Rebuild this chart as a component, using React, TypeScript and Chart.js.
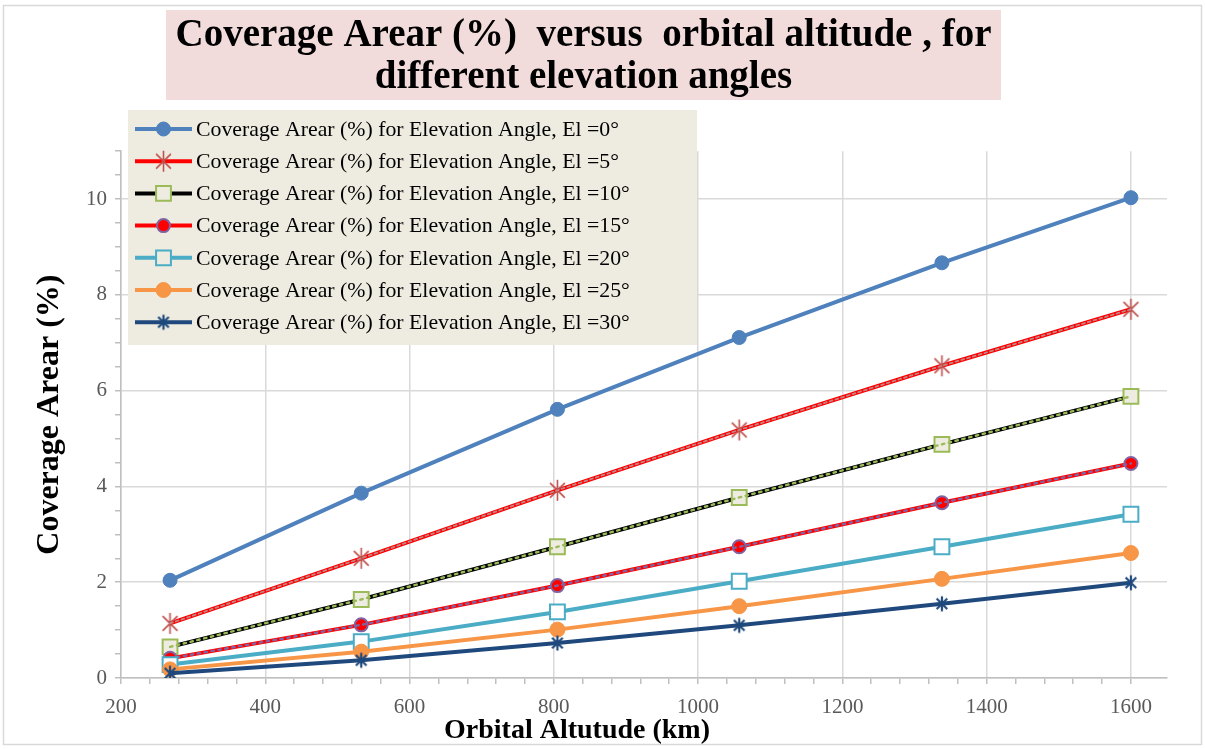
import React, { useEffect, useRef } from 'react';
import { Chart, registerables } from 'chart.js';
import { drawPoint } from 'chart.js/helpers';

Chart.register(...registerables);

// ---------------- data ----------------
const altitudes = [268, 533, 805, 1057, 1338, 1600];
const el0 = [2.04, 3.86, 5.61, 7.11, 8.67, 10.03];
const el5 = [1.14, 2.5, 3.92, 5.18, 6.52, 7.7];
const el10 = [0.65, 1.64, 2.74, 3.77, 4.88, 5.88];
const el15 = [0.41, 1.11, 1.93, 2.74, 3.66, 4.48];
const el20 = [0.28, 0.76, 1.38, 2.02, 2.74, 3.42];
const el25 = [0.18, 0.55, 1.01, 1.5, 2.07, 2.61];
const el30 = [0.1, 0.37, 0.73, 1.1, 1.55, 1.99];

const seriesLabels = [
  'Coverage Arear (%) for Elevation Angle, El =0°',
  'Coverage Arear (%) for Elevation Angle, El =5°',
  'Coverage Arear (%) for Elevation Angle, El =10°',
  'Coverage Arear (%) for Elevation Angle, El =15°',
  'Coverage Arear (%) for Elevation Angle, El =20°',
  'Coverage Arear (%) for Elevation Angle, El =25°',
  'Coverage Arear (%) for Elevation Angle, El =30°',
];
const seriesValues = [el0, el5, el10, el15, el20, el25, el30];

const titleLines = ['Coverage Arear (%)  versus  orbital altitude , for', 'different elevation angles'];
const xTitle = 'Orbital Altutude (km)';
const yTitle = 'Coverage Arear (%)';

// ---------------- styles ----------------
const FONT = "'Liberation Serif', 'Times New Roman', serif";

function asterisk(r: number, color: string, lw: number): HTMLCanvasElement {
  const size = Math.ceil(2 * r + lw + 2);
  const c = document.createElement('canvas');
  c.width = size;
  c.height = size;
  const g = c.getContext('2d')!;
  const m = size / 2;
  g.strokeStyle = color;
  g.lineWidth = lw;
  g.lineCap = 'butt';
  const d = r * Math.SQRT1_2;
  g.beginPath();
  g.moveTo(m, m - r);
  g.lineTo(m, m + r);
  g.moveTo(m - d, m - d);
  g.lineTo(m + d, m + d);
  g.moveTo(m - d, m + d);
  g.lineTo(m + d, m - d);
  g.stroke();
  return c;
}

type Style = {
  color: string;
  pointStyle: any;
  radius: number;
  fill: string;
  border: string;
  pbw: number;
  overlay?: { color: string; dash: number[]; width: number };
};

function makeStyles(): Style[] {
  return [
    { color: '#4f81bd', pointStyle: 'circle', radius: 7, fill: '#4f81bd', border: '#4f81bd', pbw: 1 },
    { color: '#ff0000', pointStyle: asterisk(10.5, '#c0504d', 1.6), radius: 10.5, fill: '#c0504d', border: '#c0504d', pbw: 1.5,
      overlay: { color: '#c08585', dash: [3, 3], width: 1.8 } },
    { color: '#000000', pointStyle: 'rect', radius: 10.5, fill: '#eeece1', border: '#9bbb59', pbw: 2,
      overlay: { color: '#9bbb59', dash: [2.5, 4.5], width: 2.4 } },
    { color: '#ff0000', pointStyle: 'circle', radius: 6.5, fill: '#ff0000', border: '#8064a2', pbw: 2,
      overlay: { color: '#8064a2', dash: [2.5, 4.5], width: 2.4 } },
    { color: '#4bacc6', pointStyle: 'rect', radius: 10.5, fill: '#ffffff', border: '#4bacc6', pbw: 2 },
    { color: '#f79646', pointStyle: 'circle', radius: 7.5, fill: '#f79646', border: '#f79646', pbw: 1 },
    { color: '#1f497d', pointStyle: asterisk(7.5, '#1f497d', 2.2), radius: 7.5, fill: '#1f497d', border: '#1f497d', pbw: 2 },
  ];
}

export default function App() {
  const ref = useRef<HTMLCanvasElement | null>(null);
  useEffect(() => {
    if (!ref.current) return;
    const styles = makeStyles();

    const framePlugin = {
      id: 'frame',
      beforeDraw(chart: any) {
        const ctx = chart.ctx;
        ctx.save();
        ctx.fillStyle = '#ffffff';
        ctx.fillRect(0, 0, chart.width, chart.height);
        ctx.strokeStyle = '#d9d9d9';
        ctx.lineWidth = 1.5;
        ctx.strokeRect(3.5, 5.5, 1198, 739);
        const tb = chart.titleBlock;
        const cx = (tb.left + tb.right) / 2;
        ctx.fillStyle = '#f2dcdb';
        ctx.fillRect(cx - 417.5, 10, 835, 90);
        ctx.restore();
      },
    };

    const overlayPlugin = {
      id: 'overlay',
      afterDatasetDraw(chart: any, args: any) {
        const st = styles[args.index];
        if (!st || !st.overlay) return;
        const pts = args.meta.data;
        const ctx = chart.ctx;
        ctx.save();
        ctx.strokeStyle = st.overlay.color;
        ctx.lineWidth = st.overlay.width;
        ctx.setLineDash(st.overlay.dash);
        ctx.lineCap = 'round';
        ctx.beginPath();
        pts.forEach((p: any, i: number) => (i ? ctx.lineTo(p.x, p.y) : ctx.moveTo(p.x, p.y)));
        ctx.stroke();
        ctx.restore();
      },
    };

    const boxLegendPlugin = {
      id: 'boxLegend',
      afterDraw(chart: any) {
        const ctx = chart.ctx;
        ctx.save();
        ctx.fillStyle = '#eeece1';
        ctx.fillRect(128, 110, 569, 235);
        chart.data.datasets.forEach((ds: any, i: number) => {
          const st = styles[i];
          const y = 129 + i * 32.2;
          ctx.setLineDash([]);
          ctx.lineCap = 'butt';
          ctx.strokeStyle = st.color;
          ctx.lineWidth = 4;
          ctx.beginPath();
          ctx.moveTo(135, y);
          ctx.lineTo(192, y);
          ctx.stroke();
          ctx.fillStyle = st.fill === '#ffffff' ? '#eeece1' : st.fill;
          ctx.strokeStyle = st.border;
          ctx.lineWidth = st.pbw;
          drawPoint(ctx, { pointStyle: st.pointStyle, radius: st.radius, rotation: 0, borderWidth: st.pbw } as any, 163.5, y);
          ctx.fillStyle = '#000000';
          ctx.font = `21.8px ${FONT}`;
          ctx.textBaseline = 'middle';
          ctx.textAlign = 'left';
          ctx.fillText(ds.label, 196, y + 1);
        });
        // x-axis title
        ctx.fillStyle = '#000000';
        ctx.font = `bold 28px ${FONT}`;
        ctx.textAlign = 'center';
        ctx.textBaseline = 'middle';
        ctx.fillText(xTitle, 577, 731);
        ctx.restore();
      },
    };

    const datasets = seriesValues.map((vals, i) => {
      const st = styles[i];
      return {
        label: seriesLabels[i],
        data: vals.map((v, j) => ({ x: altitudes[j], y: v })),
        borderColor: st.color,
        backgroundColor: st.color,
        borderWidth: 4,
        pointStyle: st.pointStyle,
        pointRadius: st.radius,
        pointBackgroundColor: st.fill,
        pointBorderColor: st.border,
        pointBorderWidth: st.pbw,
        tension: 0,
        order: seriesValues.length - i,
      };
    });
    const chart = new Chart(ref.current, {
      type: 'line',
      data: { datasets } as any,
      options: {
        responsive: false,
        animation: false,
        events: [],
        layout: { padding: { left: 0, right: 38, top: 0, bottom: 0 } },
        plugins: {
          legend: { display: false },
          tooltip: { enabled: false },
          title: {
            display: true,
            text: titleLines,
            color: '#000000',
            font: { family: FONT, size: 39, weight: 'bold', lineHeight: 1.08 },
            padding: { top: 15, bottom: 52 },
          },
        },
        scales: {
          x: {
            type: 'linear',
            min: 200,
            max: 1650,
            afterBuildTicks: (axis: any) => {
              axis.ticks = axis.ticks.filter((t: any) => t.value % 40 === 0 && t.value <= 1640);
            },
            afterFit: (s: any) => {
              s.height = 71;
            },
            ticks: {
              stepSize: 40,
              maxTicksLimit: 1000,
              autoSkip: false,
              maxRotation: 0,
              padding: 11,
              color: '#595959',
              font: { family: FONT, size: 21 },
              callback: (v: any) => (v % 200 === 0 ? String(v) : ''),
            },
            grid: {
              color: (c: any) => (c.tick && c.tick.value % 200 === 0 ? '#d9d9d9' : 'rgba(0,0,0,0)'),
              lineWidth: 1.5,
              tickColor: '#bfbfbf',
              tickLength: 6,
            },
            border: { color: '#bfbfbf', width: 1.5 },
          },
          y: {
            min: 0,
            max: 11,
            afterFit: (s: any) => {
              s.width = 121;
            },
            ticks: {
              stepSize: 0.5,
              maxTicksLimit: 1000,
              autoSkip: false,
              padding: 8,
              color: '#595959',
              font: { family: FONT, size: 21 },
              callback: (v: any) => (v % 2 === 0 ? String(v) : ''),
            },
            grid: {
              color: (c: any) => (c.tick && c.tick.value % 2 === 0 ? '#d9d9d9' : 'rgba(0,0,0,0)'),
              lineWidth: 1.5,
              tickColor: '#bfbfbf',
              tickLength: 6,
            },
            border: { color: '#bfbfbf', width: 1.5 },
            title: {
              display: true,
              text: yTitle,
              color: '#000000',
              font: { family: FONT, size: 32, weight: 'bold', lineHeight: 1.2 },
              padding: { top: 31, bottom: 0 },
            },
          },
        },
      },
      plugins: [framePlugin, overlayPlugin, boxLegendPlugin],
    } as any);
    return () => chart.destroy();
  }, []);
  return (
    <div style={{ position: 'fixed', left: 0, top: 0, width: 1205, height: 749, background: '#fff' }}>
      <canvas ref={ref} width={1205} height={749} style={{ display: 'block' }} />
    </div>
  );
}
